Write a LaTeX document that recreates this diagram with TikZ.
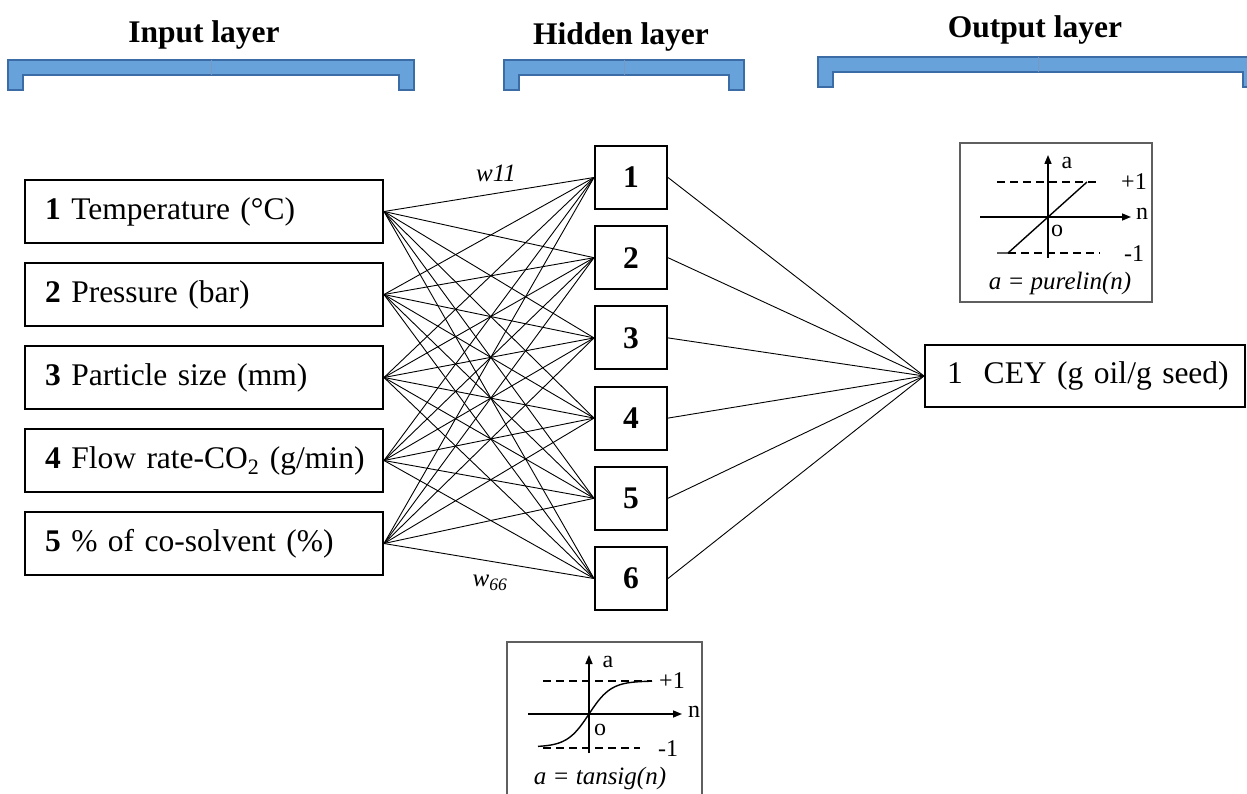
\documentclass[tikz,border=0pt]{standalone}
\usepackage{fontspec}
\setmainfont{Liberation Serif}
\usetikzlibrary{arrows.meta}
\newcommand{\DY}{83}
\newcommand{\HY}{80.2}
\definecolor{barfill}{RGB}{104,162,218}
\definecolor{bardraw}{RGB}{60,108,165}
\definecolor{insetgray}{RGB}{95,95,95}

% layer bracket: left x, right x, top y
\newcommand{\layerbar}[3]{%
  \fill[barfill, draw=bardraw, line width=1.2pt]
    (#1,#3) -- (#2,#3) -- (#2,#3+30) -- (#2-15,#3+30) -- (#2-15,#3+15)
    -- (#1+15,#3+15) -- (#1+15,#3+30) -- (#1,#3+30) -- cycle;
  \draw[bardraw!70, line width=0.8pt] ({(#1+#2)/2},#3) -- ({(#1+#2)/2},#3+15);
}

\begin{document}
\begin{tikzpicture}[
    x=1pt, y=-1pt,
    >={Triangle[length=9pt,width=7pt]},
    inbox/.style={draw=black, line width=2pt, fill=white, text width=346pt, inner xsep=6pt,
                  minimum height=63pt, align=left, font=\fontsize{31.5}{36}\selectfont,
                  execute at begin node=\hspace*{14pt}},
    hidbox/.style={draw=black, line width=2pt, fill=white, minimum width=72pt, minimum height=63pt,
                   inner sep=0pt, font=\fontsize{31.5}{36}\selectfont\bfseries},
    outbox/.style={draw=black, line width=2pt, fill=white, text width=314pt, inner xsep=3pt,
                   minimum height=62pt, align=left, font=\fontsize{31.5}{36}\selectfont,
                   execute at begin node=\hspace*{19pt}},
    wire/.style={black, line width=0.9pt},
    head/.style={font=\fontsize{31.5}{36}\selectfont\bfseries, anchor=base},
    wlab/.style={font=\fontsize{25}{30}\selectfont\itshape},
    inset/.style={draw=insetgray, line width=1.6pt, fill=white},
    axis/.style={black, line width=1.5pt, ->},
    lvl/.style={black, line width=1.4pt, dash pattern=on 8pt off 5pt},
    tick/.style={font=\fontsize{24}{28}\selectfont, inner sep=0pt},
    fml/.style={font=\fontsize{25}{30}\selectfont\itshape, inner sep=0pt},
  ]
  \useasboundingbox (0,0) rectangle (1247,794);

  %% ================= headers and brackets =================
  \node[head] (hin)  at (204,43)  {Input layer};
  \node[head] (hhid) at (621,45)  {Hidden layer};
  \node[head] (hout) at (1035,38) {Output layer};
  \layerbar{8}{414}{60}
  \layerbar{504}{744}{60}
  \layerbar{818}{1258}{57}

  %% ================= input layer =================
  \node[inbox] (in1) at (204,{211.5+0*\DY}) {\textbf{1} Temperature (\textdegree C)};
  \node[inbox] (in2) at (204,{211.5+1*\DY}) {\textbf{2} Pressure (bar)};
  \node[inbox] (in3) at (204,{211.5+2*\DY}) {\textbf{3} Particle size (mm)};
  \node[inbox] (in4) at (204,{211.5+3*\DY}) {\textbf{4} Flow rate-CO\textsubscript{2} (g/min)};
  \node[inbox] (in5) at (204,{211.5+4*\DY}) {\textbf{5} \% of co-solvent (\%)};

  %% ================= hidden layer =================
  \foreach \j in {1,...,6} {
    \node[hidbox] (hid\j) at (631,{177.5+(\j-1)*\HY}) {\j};
  }

  %% ================= output layer =================
  \node[outbox] (out1) at (1085,376) {1~~CEY (g oil/g seed)};

  % every input to every hidden neuron, every hidden neuron to the output
  \foreach \i in {1,...,5} {
    \foreach \j in {1,...,6} { \draw[wire] (in\i.east) -- (hid\j.west); }
  }
  \foreach \j in {1,...,6} { \draw[wire] (hid\j.east) -- (out1.west); }

  \node[wlab] (w11) at (496,173) {w11};
  \node[wlab] (w66) at (490,583) {w\textsubscript{\textit{66}}};

  %% ================= transfer functions =================
  % purelin (output layer)
  \draw[inset] (960,143) rectangle (1152,302);
  \draw[lvl] (997,182) -- (1100,182);
  \draw[lvl] (1008,253) -- (1100,253);
  \draw[black, line width=1.4pt] (997,253) -- (1008,253) -- (1087,182);
  \draw[axis] (1048,258) -- (1048,155);
  \draw[axis] (980,217) -- (1131,217);
  \node[tick] (pa)  at (1067,163) {a};
  \node[tick] (pn)  at (1142,214) {n};
  \node[tick] (po)  at (1057,231) {o};
  \node[tick] (pp1) at (1134,182) {+1};
  \node[tick] (pm1) at (1134,254) {-1};
  \node[fml]  (pf)  at (1060,283) {a = purelin(n)};

  % tansig (hidden layer)
  \draw[inset] (507,642) rectangle (702,800);
  \draw[lvl] (543,681) -- (652,681);
  \draw[lvl] (543,748) -- (640,748);
  \draw[black, line width=1.4pt] plot[domain=-51:63, samples=50, smooth]
    ({589+\x},{714-33*tanh(\x/22)});
  \draw[axis] (589,753) -- (589,655);
  \draw[axis] (528,714) -- (682,714);
  \node[tick] (ta)  at (608,662) {a};
  \node[tick] (tn)  at (694,712) {n};
  \node[tick] (to)  at (600,730) {o};
  \node[tick] (tp1) at (672,681) {+1};
  \node[tick] (tm1) at (668,749) {-1};
  \node[fml]  (tf)  at (600,778) {a = tansig(n)};

\end{tikzpicture}
\end{document}
